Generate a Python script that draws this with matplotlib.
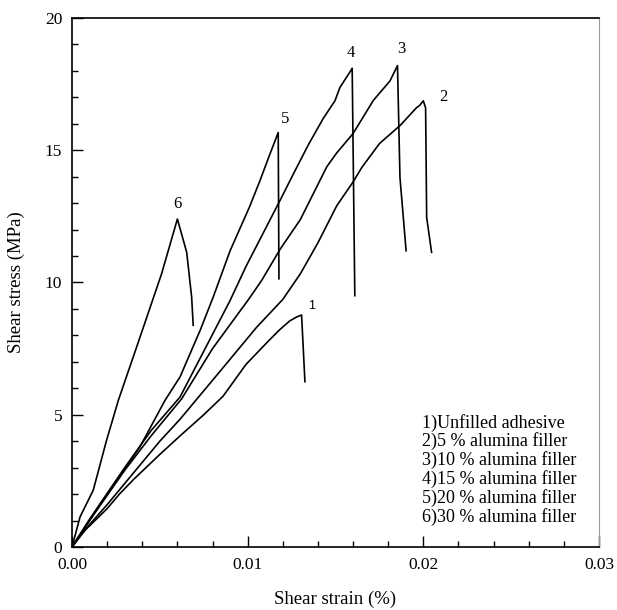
import matplotlib
matplotlib.use("Agg")
import matplotlib.pyplot as plt
from matplotlib.ticker import MultipleLocator

plt.rcParams['font.family'] = ['Liberation Serif', 'DejaVu Serif']

# stress-strain curves (strain, stress in MPa)
x1 = [0, 0.0006, 0.001, 0.002, 0.0027, 0.0035, 0.005, 0.00615, 0.0075, 0.0086, 0.0099, 0.0112, 0.0118, 0.0124, 0.0128, 0.01307, 0.01326]
y1 = [0, 0.55, 0.8, 1.45, 2.0, 2.55, 3.5, 4.2, 5.0, 5.7, 6.9, 7.8, 8.2, 8.55, 8.7, 8.77, 6.25]

x2 = [0, 0.001, 0.002, 0.0035, 0.005, 0.00615, 0.0085, 0.0105, 0.012, 0.013, 0.014, 0.01507, 0.016, 0.0165, 0.0175, 0.0187, 0.0196, 0.0198, 0.02, 0.02013, 0.02019, 0.02047]
y2 = [0, 0.85, 1.6, 2.8, 4.0, 4.83, 6.7, 8.3, 9.36, 10.33, 11.5, 12.9, 13.8, 14.35, 15.25, 15.95, 16.6, 16.7, 16.87, 16.6, 12.46, 11.14]

x3 = [0, 0.001, 0.003, 0.0045, 0.00624, 0.008, 0.01004, 0.0108, 0.01184, 0.013, 0.0145, 0.01507, 0.016, 0.01715, 0.0181, 0.01853, 0.01867, 0.01902]
y3 = [0, 1.0, 2.9, 4.2, 5.6, 7.5, 9.35, 10.08, 11.25, 12.38, 14.37, 14.9, 15.63, 16.88, 17.62, 18.2, 13.97, 11.2]

x4 = [0, 0.001, 0.003, 0.0045, 0.00615, 0.0075, 0.009, 0.0099, 0.01184, 0.0126, 0.01345, 0.0143, 0.01497, 0.01525, 0.01592, 0.01595, 0.0161]
y4 = [0, 1.05, 3.0, 4.4, 5.67, 7.4, 9.32, 10.6, 13.1, 14.1, 15.2, 16.2, 16.87, 17.37, 18.06, 18.1, 9.5]

x5 = [0, 0.002, 0.00387, 0.0053, 0.00615, 0.0073, 0.00804, 0.009, 0.0101, 0.0107, 0.01127, 0.01174, 0.01178]
y5 = [0, 2.0, 3.79, 5.55, 6.43, 8.2, 9.45, 11.2, 12.85, 13.85, 14.86, 15.67, 10.14]

x6 = [0, 0.00046, 0.00121, 0.00197, 0.00264, 0.00368, 0.0051, 0.006, 0.00653, 0.00681, 0.0069]
y6 = [0, 1.14, 2.15, 4.04, 5.55, 7.56, 10.33, 12.4, 11.14, 9.45, 8.38]

curve_labels = ['1', '2', '3', '4', '5', '6']
label_x = [0.01364, 0.02113, 0.01873, 0.01588, 0.01212, 0.006]
label_y = [9.1, 17.0, 18.82, 18.67, 16.2, 12.98]

legend_lines = ['1)Unfilled adhesive', '2)5 % alumina filler', '3)10 % alumina filler',
                '4)15 % alumina filler', '5)20 % alumina filler', '6)30 % alumina filler']

fig = plt.figure(figsize=(6.17, 6.10), dpi=100)
ax = fig.add_axes([0.1167, 0.1033, 0.8541, 0.8672])

for xs, ys in [(x1, y1), (x2, y2), (x3, y3), (x4, y4), (x5, y5), (x6, y6)]:
    ax.plot(xs, ys, color='black', lw=1.2)

for i, lab in enumerate(curve_labels):
    if lab == '1':
        ax.text(label_x[i], label_y[i], lab, fontsize=9, family='Liberation Sans', ha='center', va='center')
    else:
        ax.text(label_x[i], label_y[i], lab, fontsize=12, ha='center', va='center')

for i, line in enumerate(legend_lines):
    ax.text(0.664, 0.235 - i * 0.0355, line, transform=ax.transAxes, fontsize=13, ha='left', va='center')

ax.set_xlim(0, 0.03)
ax.set_ylim(0, 20)
ax.xaxis.set_major_locator(MultipleLocator(0.01))
ax.xaxis.set_minor_locator(MultipleLocator(0.002))
ax.yaxis.set_major_locator(MultipleLocator(5))
ax.yaxis.set_minor_locator(MultipleLocator(1))
ax.xaxis.set_major_formatter(plt.FuncFormatter(lambda v, p: f'{v:.2f}'))
ax.tick_params(which='both', direction='in', top=False, right=False, labelsize=12.5)
ax.tick_params(which='major', length=8, width=1)
ax.tick_params(which='minor', length=4, width=1)
ax.tick_params(axis='x', pad=7)
ax.tick_params(axis='y', pad=7)
ax.spines['right'].set_color('#999999')
ax.spines['top'].set_linewidth(1.2)
ax.spines['left'].set_linewidth(1.2)
ax.spines['bottom'].set_linewidth(1.2)

ax.set_xlabel('Shear strain (%)', fontsize=13.5, labelpad=13)
ax.set_ylabel('Shear stress (MPa)', fontsize=13.5, labelpad=14)

fig.savefig('out.png', dpi=100)
